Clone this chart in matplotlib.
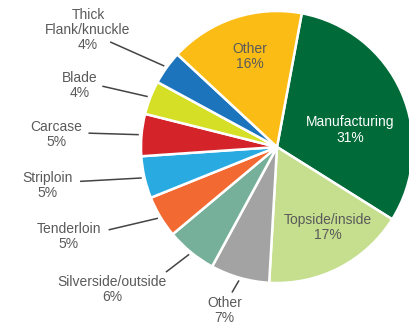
import matplotlib
matplotlib.use("Agg")
import matplotlib.pyplot as plt
import numpy as np

# share of each cut, clockwise from the top
cuts = ["Manufacturing", "Topside/inside", "Other", "Silverside/outside",
        "Tenderloin", "Striploin", "Carcase", "Blade",
        "Thick\nFlank/knuckle", "Other"]
shares = [31, 17, 7, 6, 5, 5, 5, 4, 4, 16]
colours = ["#006a39", "#c6df8e", "#a3a3a3", "#76b09a", "#f26a32",
           "#29abe2", "#d5232a", "#d4df26", "#1c75bc", "#fbbc15"]

# label centres (data units, pie radius = 1)
label_pos = [(0.54, 0.125), (0.375, -0.59), (-0.385, -1.205), (-1.21, -1.05),
             (-1.53, -0.66), (-1.69, -0.28), (-1.62, 0.095), (-1.45, 0.45),
             (-1.39, 0.86), (-0.20, 0.665)]
inside = [True, True, False, False, False, False, False, False, False, True]
# leader lines: outer radius and angle tweak (deg) of the far end
line_end = [0, 0, 1.12, 1.23, 1.38, 1.47, 1.39, 1.36, 1.45, 0]
line_turn = [0, 0, -1.3, -2.3, -4.7, -3.0, 0.9, 2.1, 3.5, 0]

start = 79.5
plt.rcParams['font.family'] = ['Liberation Sans', 'DejaVu Sans']

fig = plt.figure(figsize=(4.10, 3.27), dpi=100)
ax = fig.add_axes([0, 0, 1, 1])
wedges, _ = ax.pie(shares, colors=colours, startangle=start, counterclock=False,
                   radius=1.0, wedgeprops=dict(edgecolor="white", linewidth=1.8))

grey = "#5a5a5a"
for i, w in enumerate(wedges):
    mid = (w.theta1 + w.theta2) / 2
    txt = "%s\n%d%%" % (cuts[i], shares[i])
    col = "white" if cuts[i] == "Manufacturing" else grey
    ax.text(label_pos[i][0], label_pos[i][1], txt, ha="center", va="center",
            fontsize=10, color=col, linespacing=1.1)
    if not inside[i]:
        a0 = np.radians(mid)
        a1 = np.radians(mid + line_turn[i])
        ax.plot([1.02 * np.cos(a0), line_end[i] * np.cos(a1)],
                [1.02 * np.sin(a0), line_end[i] * np.sin(a1)],
                color="#444444", lw=1.1, solid_capstyle="butt")

s = 136.0
ax.set_xlim(-277 / s, (410 - 277) / s)
ax.set_ylim(-(327 - 147) / s, 147 / s)
ax.set_aspect("equal")
ax.axis("off")

fig.savefig("out.png", dpi=100)
